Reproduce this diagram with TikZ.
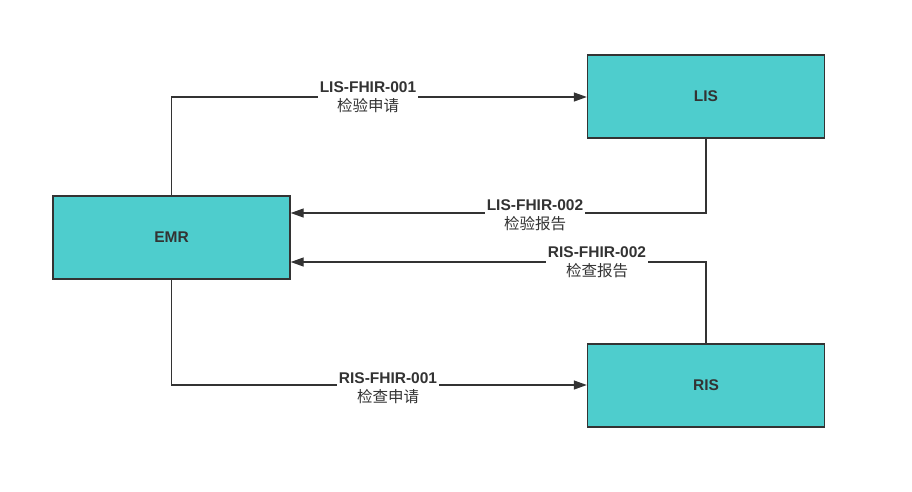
\documentclass[tikz,border=0pt]{standalone}
\usepackage{fontspec}
\setmainfont{Liberation Sans}
\newfontfamily\cjk{Noto Sans CJK SC}
\usetikzlibrary{arrows.meta}
\definecolor{boxfill}{HTML}{4ECDCD}
\definecolor{ink}{HTML}{333333}
\tikzset{
  sysbox/.style={draw=ink, line width=1.4pt, fill=boxfill, minimum width=237pt, minimum height=83pt, inner sep=0pt, font=\fontsize{15.5}{18}\selectfont\bfseries, text=ink},
  conn/.style={draw=ink, line width=1.3pt, -{Triangle[length=13pt,width=9pt]}},
  lbl/.style={fill=white, inner sep=1.5pt, align=center, text=ink, font=\fontsize{15.5}{19}\selectfont}
}
\begin{document}
\begin{tikzpicture}[x=1pt,y=-1pt]
\useasboundingbox[fill=white] (0,0) rectangle (912,491);
\node[sysbox] (emr) at (171.5,237.5) {EMR};
\node[sysbox] (lis) at (706,96.5) {LIS};
\node[sysbox] (ris) at (706,385.5) {RIS};
\coordinate (c1) at (171.5,97);
\coordinate (c2) at (706,213);
\coordinate (c3) at (706,262);
\coordinate (c4) at (171.5,385);
\draw[conn] (emr.north) -- (c1) -- (lis.west |- c1);
\draw[conn] (lis.south) -- (c2) -- (emr.east |- c2);
\draw[conn] (ris.north) -- (c3) -- (emr.east |- c3);
\draw[conn] (emr.south) -- (c4) -- (ris.west |- c4);
\node[lbl] (l1) at (368,97.5) {\textbf{LIS-FHIR-001}\\{\cjk 检验申请}};
\node[lbl] (l2) at (535,215.5) {\textbf{LIS-FHIR-002}\\{\cjk 检验报告}};
\node[lbl] (l3) at (597,262.5) {\textbf{RIS-FHIR-002}\\{\cjk 检查报告}};
\node[lbl] (l4) at (388,388) {\textbf{RIS-FHIR-001}\\{\cjk 检查申请}};
\end{tikzpicture}
\end{document}
